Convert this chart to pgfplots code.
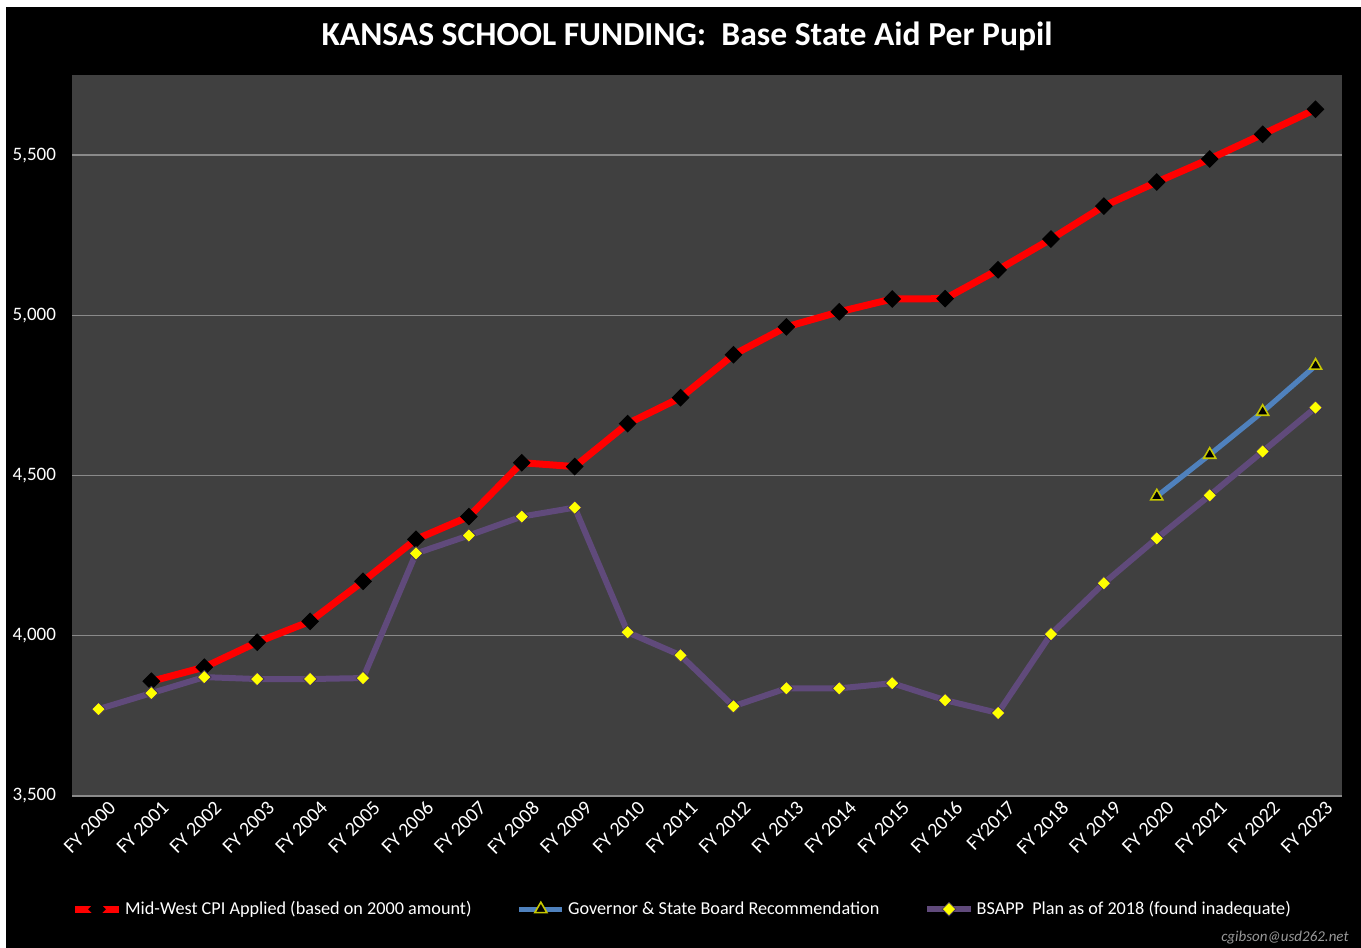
\documentclass[border=0pt]{standalone}
\usepackage{fontspec}
\setmainfont{Carlito}
\usepackage{pgfplots}
\pgfplotsset{compat=1.18}
\definecolor{plotbg}{HTML}{404040}
\definecolor{gridc}{HTML}{8A8A8A}
\definecolor{cpired}{HTML}{FF0000}
\definecolor{govblue}{HTML}{4F81BD}
\definecolor{bsapp}{HTML}{604A7B}
\definecolor{yel}{HTML}{FFFF00}
\definecolor{olivey}{HTML}{C8C800}
\begin{document}
\begin{tikzpicture}
\useasboundingbox (0,0) rectangle (680.5pt,474pt);
\fill[white] (0,0) rectangle (680.5pt,474pt);
\fill[black] (3pt,0) rectangle (680.5pt,470.5pt);
\begin{axis}[
  at={(36pt,76pt)}, anchor=south west,
  scale only axis, width=635pt, height=360.5pt,
  xmin=-0.5, xmax=23.5, ymin=3500, ymax=5750,
  axis background/.style={fill=plotbg},
  axis line style={draw=none},
  ytick={3500,4000,4500,5000,5500},
  ymajorgrids, grid style={gridc, line width=0.7pt},
  major tick length=0pt,
  xtick={0,...,23},
  xticklabels={FY 2000,FY 2001,FY 2002,FY 2003,FY 2004,FY 2005,FY 2006,FY 2007,FY 2008,FY 2009,FY 2010,FY 2011,FY 2012,FY 2013,FY 2014,FY 2015,FY 2016,FY2017,FY 2018,FY 2019,FY 2020,FY 2021,FY 2022,FY 2023},
  xticklabel style={rotate=45, anchor=north east, white, font=\fontsize{10}{11}\selectfont, inner sep=1pt, xshift=3pt, yshift=-3.5pt},
  yticklabel style={white, font=\fontsize{9.5}{11}\selectfont, xshift=-4.5pt},
  /pgf/number format/assume math mode=true,
  /pgf/number format/1000 sep={,},
  legend columns=3,
  legend style={draw=none, fill=black, text=white, font=\fontsize{9.1}{11}\selectfont,
    at={(0.481,-0.157)}, anchor=center, inner sep=1pt,
    /tikz/every even column/.append style={column sep=21pt},
    nodes={inner sep=1.5pt}},
  legend image code/.code={\draw[mark repeat=2,mark phase=2] plot coordinates {(0cm,0cm)(0.38cm,0cm)(0.76cm,0cm)};},
  legend cell align=left,
]
\addplot[cpired, line width=3.5pt, mark=square*, mark size=2.9pt,
  mark options={rotate=45, fill=black, draw=black, line width=0.5pt, solid}]
  coordinates {
  (1,3858) (2,3902) (3,3980) (4,4045) (5,4170) (6,4301) (7,4372) (8,4540)
  (9,4528) (10,4662) (11,4743) (12,4877) (13,4964) (14,5011) (15,5051)
  (16,5052) (17,5142) (18,5238) (19,5341) (20,5416) (21,5488) (22,5565) (23,5643)};
\addlegendentry{Mid-West CPI Applied (based on 2000 amount)}
\addplot[govblue, line width=2.6pt, mark=triangle*, mark size=3.5pt,
  mark options={fill=black, draw=olivey, line width=0.8pt, solid}]
  coordinates {(20,4435) (21,4565) (22,4699) (23,4843)};
\addlegendentry{Governor \& State Board Recommendation}
\addplot[bsapp, line width=3pt, mark=square*, mark size=2.4pt,
  mark options={rotate=45, fill=yel, draw=bsapp!70!black, line width=0.4pt, solid}]
  coordinates {
  (0,3771) (1,3821) (2,3871) (3,3865) (4,3865) (5,3868) (6,4257) (7,4313)
  (8,4372) (9,4400) (10,4011) (11,3939) (12,3780) (13,3836) (14,3836)
  (15,3852) (16,3799) (17,3759) (18,4005) (19,4164) (20,4304) (21,4438)
  (22,4575) (23,4712)};
\addlegendentry{BSAPP\ \ Plan as of 2018 (found inadequate)}
\end{axis}
\node[white, font=\bfseries\fontsize{16.8}{19}\selectfont] at (343.5pt,456pt)
  {KANSAS SCHOOL FUNDING:\ \ Base State Aid Per Pupil};
\node[anchor=east, text=gray!80, font=\itshape\fontsize{7.5}{9}\selectfont, inner sep=0pt]
  at (674.5pt,5pt) {cgibson@usd262.net};
\end{tikzpicture}
\end{document}
